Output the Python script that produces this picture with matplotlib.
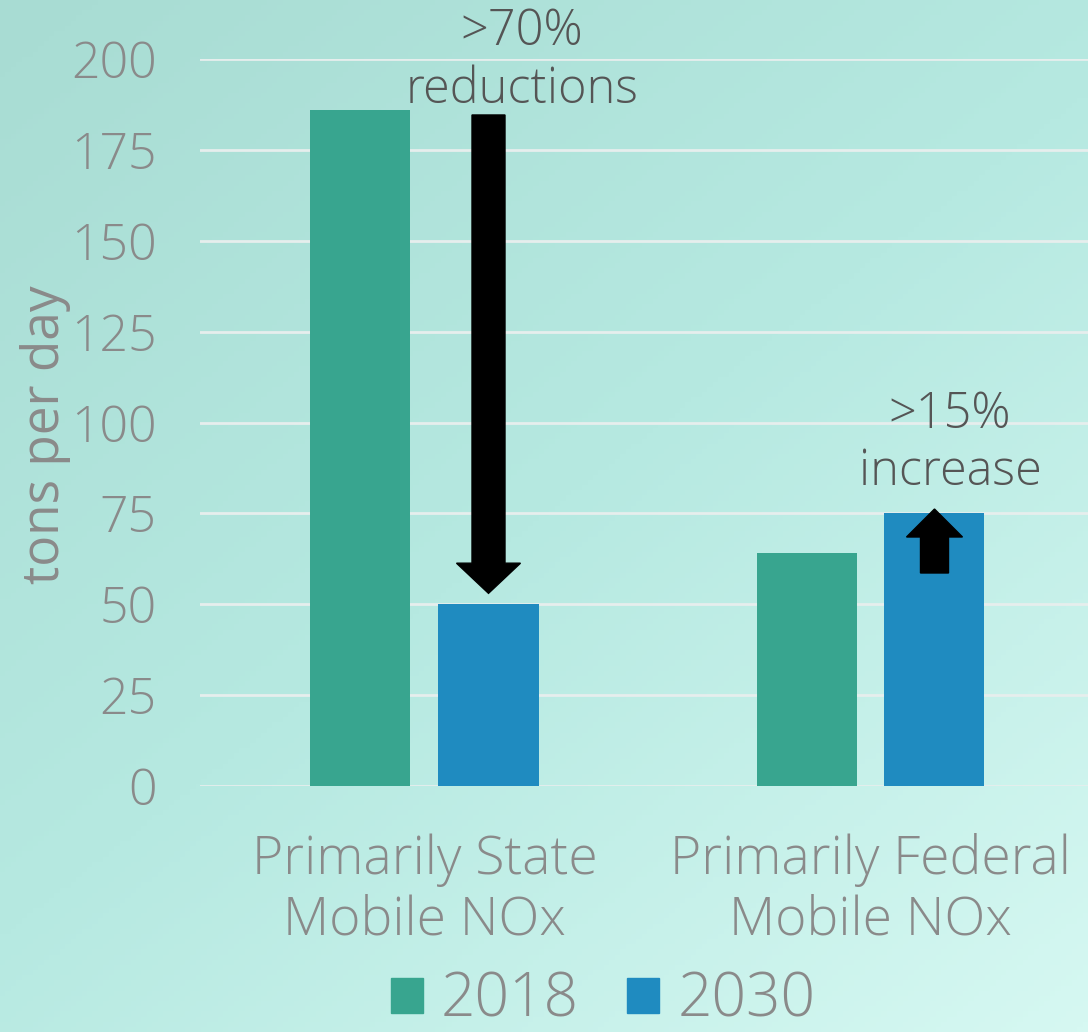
import numpy as np
import matplotlib
matplotlib.use("Agg")
import matplotlib.pyplot as plt
from matplotlib.patches import FancyArrow, Patch
from matplotlib.colors import LinearSegmentedColormap

categories = ["Primarily State\nMobile NOx", "Primarily Federal\nMobile NOx"]
series_names = ["2018", "2030"]
values_2018 = [186, 64]
values_2030 = [50, 75]
yticks = [0, 25, 50, 75, 100, 125, 150, 175, 200]

plt.rcParams['font.family'] = ['Open Sans', 'DejaVu Sans']
plt.rcParams['font.weight'] = 'light'

W, H = 1088, 1032
fig = plt.figure(figsize=(W/100, H/100), dpi=100)

# background gradient
bg = fig.add_axes([0, 0, 1, 1], zorder=-10)
yy, xx = np.mgrid[0:1:200j, 0:1:200j]
t = 0.55 * yy + 0.45 * xx
cmap = LinearSegmentedColormap.from_list("bg", ["#a8dcd3", "#b6e9e1", "#d6f8f2"])
bg.imshow(t, cmap=cmap, aspect='auto', extent=[0, 1, 0, 1], origin='upper')
bg.axis('off')

ax = fig.add_axes([200/W, 1-786/H, 1-200/W, (786-59)/H])
ax.patch.set_alpha(0)

green = "#38a58f"
blue = "#1f8bc0"
bw = 100/446
off = 64/446
x = np.arange(len(categories))
ax.bar(x - off, values_2018, width=bw, color=green, zorder=3)
ax.bar(x + off, values_2030, width=bw, color=blue, zorder=3)

ax.set_ylim(0, 200)
ax.set_xlim(-224.5/446, (1088-424.5)/446)
ax.set_yticks(yticks)
ax.yaxis.grid(True, color="#e6eeed", lw=2, zorder=0)
ax.tick_params(axis='y', length=0, labelsize=36, labelcolor="#8a8a8a", pad=31)
ax.tick_params(axis='x', length=0, labelsize=38.5, labelcolor="#8a8a8a", pad=34)
ax.set_xticks(x)
ax.set_xticklabels(categories, linespacing=1.17)
for s in ax.spines.values():
    s.set_visible(False)
ax.set_ylabel("tons per day", fontsize=37, color="#8a8a8a")
ax.yaxis.set_label_coords(-129/888, (786-435)/727)

# arrows
ax.add_patch(FancyArrow(x[0] + off, 184.6, 0, -(184.6 - 53), width=33/446,
                        head_width=64/446, head_length=8.3, length_includes_head=True,
                        color="black", zorder=5, clip_on=False))
ax.add_patch(FancyArrow(x[1] + off, 58.6, 0, 76.2 - 58.6, width=28/446,
                        head_width=56/446, head_length=7.7, length_includes_head=True,
                        color="black", zorder=5, clip_on=False))

tc = "#555555"
ax.text((522-424.5)/446, 207.5, ">70%", ha='center', va='center', fontsize=35, color=tc, clip_on=False)
ax.text((522-424.5)/446, 191.5, "reductions", ha='center', va='center', fontsize=35, color=tc, clip_on=False)
ax.text((950-424.5)/446, 102, ">15%", ha='center', va='center', fontsize=35, color=tc, clip_on=False)
ax.text((950-424.5)/446, 86.4, "increase", ha='center', va='center', fontsize=35, color=tc, clip_on=False)

handles = [Patch(color=green, label=series_names[0]), Patch(color=blue, label=series_names[1])]
fig.legend(handles=handles, loc='center', bbox_to_anchor=(603/W, 1-1001/H), ncol=2,
           frameon=False, fontsize=43.5, labelcolor="#8a8a8a", handlelength=0.53,
           handleheight=0.53, handletextpad=0.3, columnspacing=0.8,
           borderpad=0, borderaxespad=0)

fig.savefig("out.png", dpi=100)
